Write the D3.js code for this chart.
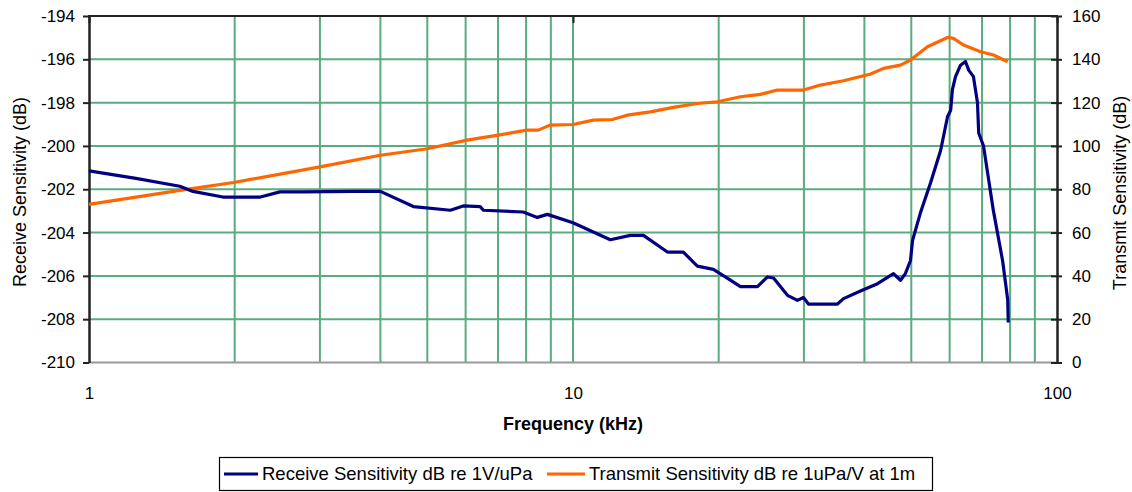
<!DOCTYPE html>
<html>
<head>
<meta charset="utf-8">
<script src="https://cdn.jsdelivr.net/npm/d3@7/dist/d3.min.js"></script>
<style>
  html, body { margin: 0; padding: 0; background: #fff; }
  svg { display: block; font-family: "Liberation Sans", Arial, sans-serif; }
</style>
</head>
<body>
<svg id="chart" width="1132" height="492"></svg>
<script>
// ---- Data ----
const receiveFreq = [1.0, 1.25, 1.54, 1.64, 1.89, 2.26, 2.48, 2.77, 3.5, 4.0, 4.68, 5.58, 5.93, 6.43, 6.53, 7.89, 8.44, 8.85, 10.0,
  11.94, 13.14, 13.98, 15.67, 16.9, 18.07, 19.5, 21.14, 22.18, 24.05, 25.22, 25.96, 27.74, 29.09, 29.93, 30.65,
  35.19, 36.22, 39.26, 42.58, 45.94, 47.5, 48.6, 49.8, 50.3, 52.2, 54.8, 57.5, 59.4, 60.3, 60.8, 61.7, 63.2,
  64.7, 65.7, 67.2, 68.5, 68.9, 70.5, 73.9, 77.2, 79.1, 79.3];
const receiveDb = [-201.15, -201.5, -201.86, -202.1, -202.36, -202.36, -202.12, -202.12, -202.1, -202.1, -202.8, -202.97, -202.77, -202.8, -202.97, -203.05, -203.3, -203.16, -203.55,
  -204.33, -204.13, -204.13, -204.9, -204.9, -205.55, -205.7, -206.2, -206.5, -206.5, -206.05, -206.1, -206.9, -207.13, -207.0, -207.3,
  -207.3, -207.05, -206.7, -206.36, -205.9, -206.2, -205.9, -205.3, -204.36, -203.1, -201.7, -200.2, -198.65, -198.35, -197.4, -196.8, -196.27,
  -196.1, -196.5, -196.8, -198.0, -199.4, -200.0, -203.0, -205.3, -207.1, -208.15];

const transmitFreq = [1.0, 1.54, 1.99, 3.0, 4.0, 5.0, 6.04, 7.01, 8.03, 8.48, 8.96, 10.0, 11.01, 12.06, 12.94, 14.45, 16.12, 18.07,
  19.88, 22.18, 24.39, 26.45, 29.93, 32.45, 36.22, 41.2, 43.8, 47.5, 49.8, 54.0, 59.4, 61.1, 64.1, 69.5, 73.9, 79.1];
const transmitDb = [73, 79.5, 83.1, 90.3, 95.7, 98.7, 102.7, 105, 107.3, 107.3, 109.6, 109.9, 111.9, 112.2, 114.2, 115.7, 117.8, 119.6,
  120.4, 122.7, 123.8, 125.8, 125.8, 128.1, 130.1, 133.2, 135.8, 137.3, 139.7, 145.8, 150.1, 149.7, 146.6, 143.5, 142, 138.9];

const xTickLabels = [1, 10, 100];
const xGridValues = [2, 3, 4, 5, 6, 7, 8, 9, 10, 20, 30, 40, 50, 60, 70, 80, 90];
const leftTicks = [-210, -208, -206, -204, -202, -200, -198, -196, -194];
const rightTicks = [0, 20, 40, 60, 80, 100, 120, 140, 160];

const seriesNames = ["Receive Sensitivity dB re 1V/uPa", "Transmit Sensitivity dB re 1uPa/V at 1m"];
const seriesColors = ["#000080", "#ff6600"];

// ---- Layout ----
const L = 89, R = 1057, T = 16, B = 362.5;
const svg = d3.select("#chart");

const x = d3.scaleLog().domain([1, 100]).range([L, R]);
const yL = d3.scaleLinear().domain([-210, -194]).range([B, T]);
const yR = d3.scaleLinear().domain([0, 160]).range([B, T]);

const gridColor = "#5aab7f";
const plain = d => String(d);

// grid
const grid = svg.append("g");
grid.selectAll(".vg").data(xGridValues).join("line")
  .attr("x1", d => x(d)).attr("x2", d => x(d))
  .attr("y1", T).attr("y2", B)
  .attr("stroke", gridColor).attr("stroke-width", 2);
grid.selectAll(".hg").data(leftTicks.slice(1, -1)).join("line")
  .attr("x1", L).attr("x2", R)
  .attr("y1", d => yL(d)).attr("y2", d => yL(d))
  .attr("stroke", gridColor).attr("stroke-width", 2);

// borders
svg.append("line").attr("x1", L).attr("x2", R).attr("y1", B).attr("y2", B)
  .attr("stroke", "#9a9a9a").attr("stroke-width", 2);
svg.append("line").attr("x1", L - 1).attr("x2", R + 1).attr("y1", T).attr("y2", T)
  .attr("stroke", "#222").attr("stroke-width", 2);

// top ticks (x, inward)
const topAxis = svg.append("g").attr("transform", `translate(0,${T})`)
  .call(d3.axisBottom(x).tickValues(xTickLabels).tickSize(7).tickFormat(""));
topAxis.select(".domain").remove();
topAxis.selectAll("line").attr("stroke", "#222").attr("stroke-width", 2);

// bottom labels
const botAxis = svg.append("g").attr("transform", `translate(0,${B})`)
  .call(d3.axisBottom(x).tickValues(xTickLabels).tickSize(0).tickPadding(24).tickFormat(plain));
botAxis.select(".domain").remove();
botAxis.selectAll("text").attr("font-size", 17).attr("fill", "#000").style("font-family", "Liberation Sans, Arial, sans-serif");

// left axis
const leftAxis = svg.append("g").attr("transform", `translate(${L},0)`)
  .call(d3.axisLeft(yL).tickValues(leftTicks).tickSize(6).tickPadding(8).tickSizeOuter(0).tickFormat(plain));
leftAxis.select(".domain").attr("stroke", "#222").attr("stroke-width", 2.5);
leftAxis.selectAll("line").attr("stroke", "#222").attr("stroke-width", 2);
leftAxis.selectAll("text").attr("font-size", 17).attr("fill", "#000").style("font-family", "Liberation Sans, Arial, sans-serif");

// right axis
const rightAxis = svg.append("g").attr("transform", `translate(${R},0)`)
  .call(d3.axisRight(yR).tickValues(rightTicks).tickSize(5).tickPadding(10).tickSizeOuter(0).tickFormat(plain));
rightAxis.select(".domain").attr("stroke", "#222").attr("stroke-width", 2.5);
rightAxis.selectAll("line").attr("stroke", "#222").attr("stroke-width", 2);
rightAxis.selectAll("text").attr("font-size", 17).attr("fill", "#000").style("font-family", "Liberation Sans, Arial, sans-serif");
const rightInner = svg.append("g").attr("transform", `translate(${R},0)`)
  .call(d3.axisLeft(yR).tickValues(rightTicks).tickSize(6).tickFormat("").tickSizeOuter(0));
rightInner.select(".domain").remove();
rightInner.selectAll("line").attr("stroke", "#222").attr("stroke-width", 2);

// series
const receive = receiveFreq.map((f, i) => [f, receiveDb[i]]);
const transmit = transmitFreq.map((f, i) => [f, transmitDb[i]]);

svg.append("path").datum(transmit)
  .attr("fill", "none").attr("stroke", seriesColors[1]).attr("stroke-width", 3.2)
  .attr("stroke-linejoin", "round")
  .attr("d", d3.line().x(d => x(d[0])).y(d => yR(d[1])));

svg.append("path").datum(receive)
  .attr("fill", "none").attr("stroke", seriesColors[0]).attr("stroke-width", 3.2)
  .attr("stroke-linejoin", "round")
  .attr("d", d3.line().x(d => x(d[0])).y(d => yL(d[1])));

// axis titles
svg.append("text").attr("x", 573).attr("y", 430).attr("text-anchor", "middle")
  .attr("font-size", 18).attr("font-weight", "bold").attr("fill", "#000")
  .text("Frequency (kHz)");
svg.append("text").attr("transform", "translate(26,192) rotate(-90)").attr("text-anchor", "middle")
  .attr("font-size", 18).attr("fill", "#000")
  .text("Receive Sensitivity (dB)");
svg.append("text").attr("transform", "translate(1126,193) rotate(-90)").attr("text-anchor", "middle")
  .attr("font-size", 18).attr("fill", "#000")
  .text("Transmit Sensitivity (dB)");

// legend
const lg = svg.append("g");
lg.append("rect").attr("x", 219.5).attr("y", 457.5).attr("width", 713).attr("height", 33)
  .attr("fill", "#fff").attr("stroke", "#000").attr("stroke-width", 1.2);
const legendItems = [
  { name: seriesNames[0], color: seriesColors[0], x0: 224, x1: 258, tx: 262 },
  { name: seriesNames[1], color: seriesColors[1], x0: 547, x1: 585, tx: 589 }
];
legendItems.forEach(it => {
  lg.append("line").attr("x1", it.x0).attr("x2", it.x1).attr("y1", 474).attr("y2", 474)
    .attr("stroke", it.color).attr("stroke-width", 3.2);
  lg.append("text").attr("x", it.tx).attr("y", 480).attr("font-size", 18.5).attr("fill", "#000")
    .text(it.name);
});
</script>
</body>
</html>
